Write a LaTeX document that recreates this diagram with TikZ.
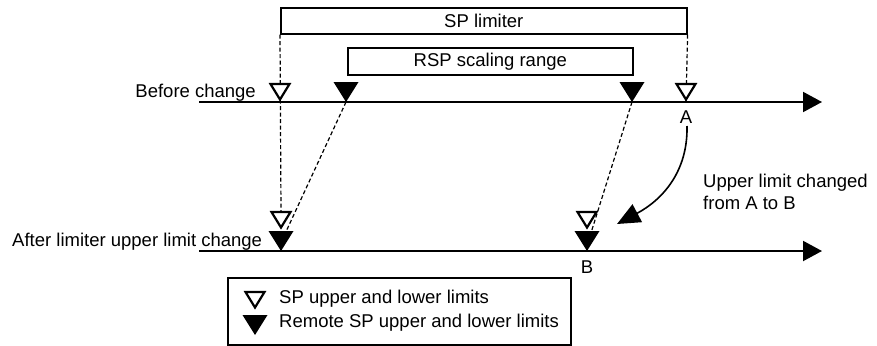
\documentclass[tikz,border=0pt]{standalone}
\usepackage{fontspec}
\setmainfont{Liberation Sans}
\usetikzlibrary{arrows.meta}
\begin{document}
\begin{tikzpicture}[x=1pt,y=-1pt,
  every node/.style={font=\fontsize{18.5}{22}\selectfont, inner sep=0pt},
  boxnode/.style={draw, line width=1.6pt, anchor=north west},
  axisline/.style={line width=2pt, -{Triangle[length=19pt,width=20pt]}},
  dashline/.style={line width=1.2pt, dash pattern=on 4pt off 2.5pt},
  opentri/.pic={\draw[line width=2.2pt, fill=white, line join=miter] (-9.5,-18) -- (9.5,-18) -- (0,-2.5) -- cycle;},
  filltri/.pic={\fill (-12.5,-20) -- (12.5,-20) -- (0,0) -- cycle;}
]
\useasboundingbox (0,0) rectangle (877,345);

% boxes
\node[boxnode, minimum width=406pt, minimum height=26pt] (sp) at (280,7) {};
\node (sptext) at (sp.center) {SP limiter};
\node[boxnode, minimum width=285pt, minimum height=27pt] (rsp) at (347,47) {};
\node (rsptext) at (rsp.center) {RSP scaling range};

% axes
\coordinate (bstart) at (199,102);
\coordinate (bend) at (822,102);
\coordinate (astart) at (199,251);
\coordinate (aend) at (822,251);
\draw[axisline] (bstart) -- (bend);
\draw[axisline] (astart) -- (aend);

% triangle apex coordinates
\coordinate (bo1) at (280,102);
\coordinate (bf1) at (346,102);
\coordinate (bf2) at (632,102);
\coordinate (bo2) at (686,102);
\coordinate (ao1) at (281,230);
\coordinate (af1) at (281,251);
\coordinate (ao2) at (587,230);
\coordinate (af2) at (587,251);
\coordinate (ao1top) at (281,212);
\coordinate (d1end) at (284,236);
\coordinate (d2end) at (590,236);

% dashed verticals
\draw[dashline] (sp.south west) -- (ao1top);
\draw[dashline] (sp.south east) -- (bo2);

% triangles
\pic at (bo1) {opentri};
\pic at (bo2) {opentri};
\pic at (bf1) {filltri};
\pic at (bf2) {filltri};
\pic at (ao1) {opentri};
\pic at (ao2) {opentri};
\pic at (af1) {filltri};
\pic at (af2) {filltri};

% dashed diagonals
\draw[dashline] (bf1) -- (d1end);
\draw[dashline] (bf2) -- (d2end);

% labels
\node[anchor=base east] (before) at (256,97) {Before change};
\node[anchor=base west] (after) at (12,246) {After limiter upper limit change};
\node (A) at (686,117) {A};
\node (B) at (587,267) {B};
\node[anchor=west, align=left] (note) at (703,192) {Upper limit changed\\from A to B};

% curved arrow
\coordinate (cstart) at (687,126);
\coordinate (ctip) at (617,224);
\draw[line width=1.6pt, -{Triangle[length=23pt,width=20pt]}] (cstart) .. controls (688,172) and (662,200) .. (ctip);

% legend
\node[boxnode, minimum width=343pt, minimum height=67pt] (legend) at (227,277) {};
\coordinate (lo) at (255,310);
\coordinate (lf) at (255,335);
\pic at (lo) {opentri};
\pic at (lf) {filltri};
\node[anchor=west] (l1) at (279,299) {SP upper and lower limits};
\node[anchor=west] (l2) at (279,323) {Remote SP upper and lower limits};
\end{tikzpicture}
\end{document}
